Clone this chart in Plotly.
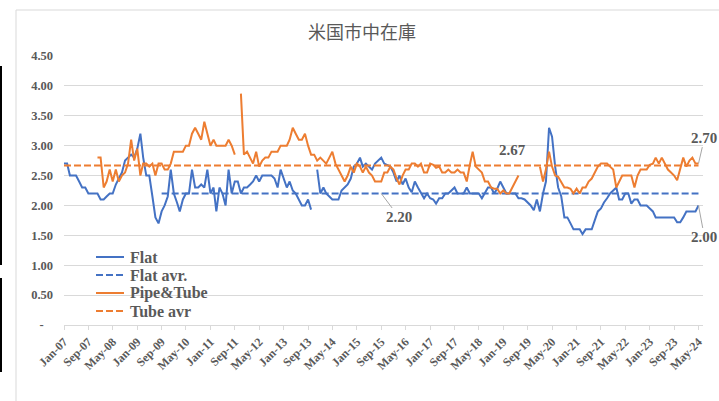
import pandas as pd
import plotly.graph_objects as go

N = None
months = pd.date_range("2007-01-01", periods=209, freq="MS")

flat = [
    2.70, 2.70, 2.50, 2.50, 2.50, 2.40, 2.30, 2.30, 2.20, 2.20,
    2.20, 2.20, 2.10, 2.10, 2.15, 2.20, 2.20, 2.35, 2.45, 2.55,
    2.75, 2.80, 2.85, 2.80, 2.95, 3.20, 2.80, 2.50, 2.50, 2.15,
    1.80, 1.70, 1.90, 2.00, 2.15, 2.60, 2.20, 2.05, 1.90, 2.10,
    2.20, 2.20, 2.60, 2.30, 2.30, 2.35, 2.30, 2.60, 2.20, 2.30,
    1.90, 2.30, 2.20, 2.00, 2.60, 2.20, 2.40, 2.40, 2.20, 2.30,
    2.30, 2.35, 2.40, 2.50, 2.40, 2.50, 2.50, 2.50, 2.50, 2.45,
    2.30, 2.60, 2.45, 2.30, 2.40, 2.25, 2.20, 2.10, 2.00, 2.00,
    2.10, 1.93, N, 2.60, 2.20, 2.30, 2.20, 2.15, 2.10, 2.10,
    2.10, 2.25, 2.30, 2.35, 2.45, 2.65, 2.70, 2.80, 2.65, 2.70,
    2.65, 2.60, 2.70, 2.75, 2.80, 2.70, 2.68, 2.65, 2.55, 2.40,
    2.50, 2.35, 2.45, 2.30, 2.22, 2.40, 2.30, 2.20, 2.12, 2.20,
    2.12, 2.10, 2.03, 2.12, 2.12, 2.20, 2.20, 2.25, 2.30, 2.20,
    2.20, 2.20, 2.30, 2.20, 2.20, 2.20, 2.20, 2.12, 2.20, 2.30,
    2.30, 2.20, 2.28, 2.40, 2.30, 2.20, 2.20, 2.20, 2.20, 2.12,
    2.12, 2.10, 2.05, 2.00, 1.92, 2.10, 1.90, 2.20, 2.40, 3.30,
    3.15, 2.65, 2.30, 2.15, 1.80, 1.80, 1.70, 1.60, 1.60, 1.60,
    1.52, 1.60, 1.60, 1.60, 1.75, 1.90, 1.95, 2.05, 2.12, 2.20,
    2.25, 2.30, 2.10, 2.10, 2.20, 2.20, 2.03, 2.10, 2.10, 2.00,
    2.00, 2.00, 1.95, 1.90, 1.80, 1.80, 1.80, 1.80, 1.80, 1.80,
    1.80, 1.72, 1.72, 1.80, 1.90, 1.90, 1.90, 1.90, 2.00,
]

pipe = [
    N, N, N, N, N, N, N, N, N, N,
    N, 2.80, 2.80, 2.30, 2.40, 2.60, 2.40, 2.60, 2.40, 2.50,
    2.55, 2.70, 3.10, 2.75, 2.95, 2.50, 2.70, 2.70, 2.65, 2.70,
    2.50, 2.70, 2.70, 2.60, 2.60, 2.70, 2.90, 2.90, 2.90, 2.90,
    3.00, 3.00, 3.20, 3.30, 3.20, 3.10, 3.40, 3.20, 3.00, 3.10,
    3.00, 3.00, 3.00, 3.00, 3.10, 3.00, 2.85, N, 3.87, 2.85,
    2.90, 2.80, 2.70, 2.90, 2.65, 2.75, 2.80, 2.80, 2.90, 2.90,
    2.90, 3.00, 3.00, 3.00, 3.10, 3.30, 3.20, 3.10, 3.10, 3.20,
    3.00, 2.85, 2.85, 2.75, 2.80, 2.75, 2.70, 2.80, 2.90, 2.70,
    2.60, 2.50, 2.40, 2.50, 2.65, 2.55, 2.70, 2.65, 2.55, 2.65,
    2.55, 2.50, 2.40, 2.40, 2.40, 2.55, 2.55, 2.65, 2.60, 2.45,
    2.35, 2.50, 2.60, 2.60, 2.70, 2.70, 2.65, 2.70, 2.55, 2.55,
    2.70, 2.68, 2.63, 2.65, 2.55, 2.55, 2.60, 2.55, 2.55, 2.60,
    2.55, 2.55, 2.40, 2.68, 2.90, 2.65, 2.60, 2.55, 2.40, 2.40,
    2.30, 2.28, 2.28, 2.20, 2.25, 2.20, 2.20, 2.30, 2.40, 2.50,
    N, N, N, N, N, N, 2.65, 2.40, 2.60, 2.90,
    2.65, 2.50, 2.48, 2.40, 2.30, 2.30, 2.28, 2.20, 2.28, 2.20,
    2.30, 2.30, 2.40, 2.45, 2.55, 2.65, 2.70, 2.70, 2.70, 2.65,
    2.60, 2.30, 2.40, 2.50, 2.50, 2.50, 2.50, 2.30, 2.50, 2.60,
    2.60, 2.60, 2.68, 2.70, 2.80, 2.70, 2.80, 2.70, 2.60, 2.55,
    2.50, 2.42, 2.60, 2.80, 2.65, 2.75, 2.80, 2.70, 2.70,
]

FLAT_AVG = 2.20
FLAT_AVG_START = 32          # Sep-09
TUBE_AVG = 2.67

flat_avr = [N] * FLAT_AVG_START + [FLAT_AVG] * (len(months) - FLAT_AVG_START)
tube_avr = [TUBE_AVG] * len(months)

y_ticks = [0, 0.5, 1.0, 1.5, 2.0, 2.5, 3.0, 3.5, 4.0, 4.5]
y_tick_text = ["-\u00a0\u00a0\u00a0", "0.50", "1.00", "1.50", "2.00", "2.50", "3.00", "3.50", "4.00", "4.50"]

BLUE = "#4472C4"
ORANGE = "#ED7D31"
GRID = "#D9D9D9"
TXT = "#595959"
SERIF = "Liberation Serif, Times New Roman, serif"
DASH = "7px,3px"

series = [
    ("Flat", flat, BLUE, "solid"),
    ("Flat avr.", flat_avr, BLUE, DASH),
    ("Pipe&Tube", pipe, ORANGE, "solid"),
    ("Tube avr", tube_avr, ORANGE, DASH),
]

fig = go.Figure()
for name, vals, col, dash in series:
    fig.add_trace(go.Scatter(x=months, y=vals, name=name, mode="lines",
                             line=dict(color=col, width=2, dash=dash),
                             connectgaps=False, showlegend=False))

L, R, T, B = 64, 703, 56, 325
W, H = 719, 401
def px(x):
    return (x - L) / (R - L)
def py(y):
    return (B - y) / (B - T)

ann_font = dict(family=SERIF, size=15, color=TXT)
annotations = [
    dict(x=months[104], y=FLAT_AVG, xref="x", yref="y", text="<b>%.2f</b>" % FLAT_AVG,
         showarrow=True, arrowhead=0, arrowwidth=1, arrowcolor="#A6A6A6",
         ax=18, ay=24, font=ann_font, standoff=0),
    dict(x=months[147], y=2.93, xref="x", yref="y", text="<b>%.2f</b>" % TUBE_AVG,
         showarrow=False, font=ann_font),
    dict(x=months[-1], y=pipe[-1], xref="x", yref="y", text="<b>%.2f</b>" % pipe[-1],
         showarrow=True, arrowhead=0, arrowwidth=1, arrowcolor="#A6A6A6",
         ax=6, ay=-26, font=ann_font, standoff=0),
    dict(x=months[-1], y=flat[-1], xref="x", yref="y", text="<b>%.2f</b>" % flat[-1],
         showarrow=True, arrowhead=0, arrowwidth=1, arrowcolor="#A6A6A6",
         ax=6, ay=32, font=ann_font, standoff=0),
]

shapes = [
    dict(type="rect", xref="paper", yref="paper", x0=px(16), x1=px(740), y0=py(10), y1=py(430),
         line=dict(color=GRID, width=1), layer="below"),
    dict(type="line", xref="paper", yref="paper", x0=px(1), x1=px(1), y0=py(66), y1=py(265),
         line=dict(color="black", width=2)),
    dict(type="line", xref="paper", yref="paper", x0=px(1), x1=px(1), y0=py(278), y1=py(372),
         line=dict(color="black", width=2)),
]

# legend drawn as a compact list (Excel-like row spacing)
LEG_X0, LEG_X1, LEG_TX, LEG_Y0, LEG_DY = 96, 124, 128, 257, 18
for i, (name, vals, col, dash) in enumerate(series):
    yy = py(LEG_Y0 + i * LEG_DY)
    shapes.append(dict(type="line", xref="paper", yref="paper", x0=px(LEG_X0), x1=px(LEG_X1),
                       y0=yy, y1=yy, line=dict(color=col, width=2, dash=dash)))
    annotations.append(dict(x=px(LEG_TX), y=yy, xref="paper", yref="paper", xanchor="left",
                            yanchor="middle", text="<b>%s</b>" % name.replace("&", "&amp;"),
                            showarrow=False, font=dict(family=SERIF, size=16, color=TXT)))

fig.update_layout(
    width=W, height=H,
    margin=dict(l=L, r=W - R, t=T, b=H - B),
    paper_bgcolor="white", plot_bgcolor="white",
    title=dict(text="米国市中在庫", x=362 / W, xref="container",
               y=1 - 33 / H, yanchor="middle", xanchor="center",
               font=dict(family="Noto Sans CJK JP", size=18, color=TXT)),
    showlegend=False,
    annotations=annotations,
    shapes=shapes,
)
fig.update_xaxes(
    type="date", range=["2007-01-01", "2024-06-15"],
    tick0="2007-01-01", dtick="M8", tickformat="%b-%y", tickangle=-45,
    showgrid=False, showline=True, linecolor=GRID, linewidth=1,
    ticks="outside", ticklen=4, tickcolor=GRID,
    tickfont=dict(family=SERIF, size=12, color=TXT, weight="bold"),
    zeroline=False,
)
fig.update_yaxes(
    range=[0, 4.5], tickvals=y_ticks, ticktext=y_tick_text,
    showgrid=True, gridcolor=GRID, gridwidth=1, zeroline=False, showline=False,
    ticks="", ticklabelstandoff=10,
    tickfont=dict(family=SERIF, size=12.5, color=TXT, weight="bold"),
)

fig.write_html("out.html", config={"displayModeBar": False},
               post_script="document.body.style.margin='0px';")
